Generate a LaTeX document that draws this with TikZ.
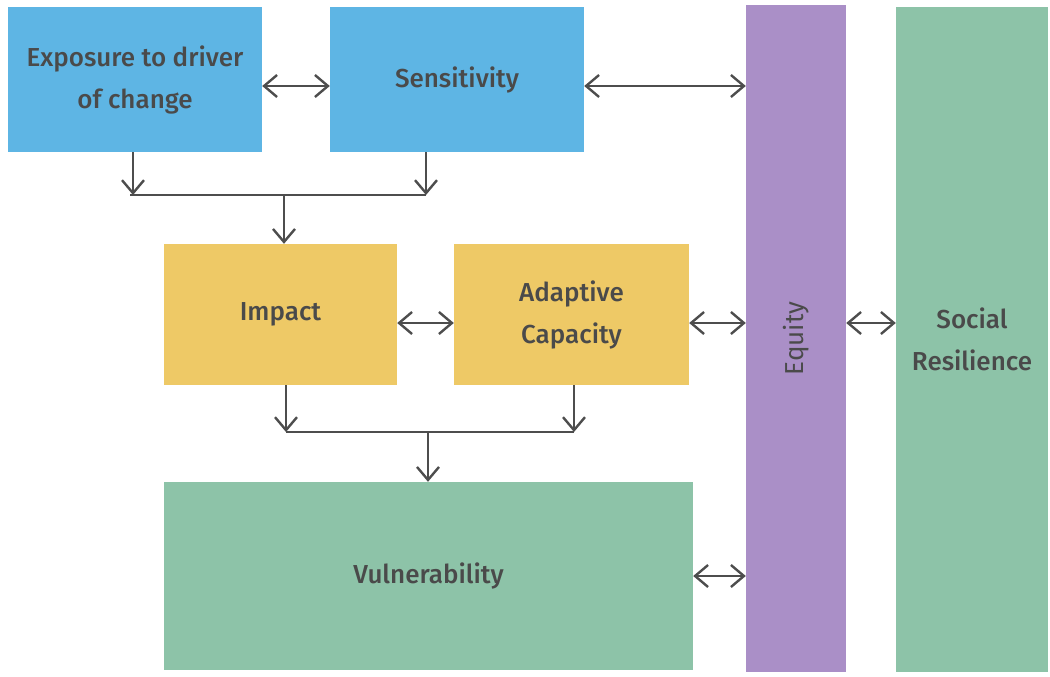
\documentclass[tikz,border=0pt]{standalone}
\usepackage{fontspec}
\setmainfont{Fira Sans}[BoldFont={Fira Sans Medium}]
\usetikzlibrary{arrows.meta}
\definecolor{expblue}{RGB}{94,181,228}
\definecolor{impyellow}{RGB}{238,201,102}
\definecolor{eqpurple}{RGB}{170,143,199}
\definecolor{vulgreen}{RGB}{141,195,168}
\definecolor{txtgray}{RGB}{74,74,74}
\definecolor{arrgray}{RGB}{77,77,77}
\begin{document}
\begin{tikzpicture}[x=1pt,y=-1pt,
	box/.style={inner sep=0pt, align=center, text=txtgray, font=\fontsize{26}{42}\selectfont\bfseries},
	arr/.style={draw=arrgray, line width=2.4pt, -{Straight Barb[length=13pt,width=22pt]}},
	dbl/.style={draw=arrgray, line width=2.4pt, {Straight Barb[length=13pt,width=22pt]}-{Straight Barb[length=13pt,width=22pt]}},
	jn/.style={draw=arrgray, line width=2.4pt}]
	\useasboundingbox (0,0) rectangle (1050,677);
	% upper row
	\node (ex) at (135, 79.5)	[box, fill=expblue, minimum width=254pt, minimum height=145pt]	{Exposure to driver\\of change};
	\node (se) at (457, 79.5)	[box, fill=expblue, minimum width=254pt, minimum height=145pt]	{Sensitivity};
	% middle row
	\node (im) at (280.5, 314.5)	[box, fill=impyellow, minimum width=233pt, minimum height=141pt]	{\raisebox{-3pt}{Impact}};
	\node (ad) at (571.5, 314.5)	[box, fill=impyellow, minimum width=235pt, minimum height=141pt]	{Adaptive\\Capacity};
	% bottom
	\node (vu) at (428.5, 576)	[box, fill=vulgreen, minimum width=529pt, minimum height=188pt]	{Vulnerability};
	% columns on the right
	\node (eq) at (796, 338.5)	[box, fill=eqpurple, minimum width=100pt, minimum height=667pt]	{};
	\node (eqt) at (eq.center)	[box, rotate=90, font=\fontsize{26}{42}\selectfont]	{Equity};
	\node (sr) at (972, 339.5)	[box, fill=vulgreen, minimum width=152pt, minimum height=665pt]	{Social\\Resilience};
	% rows of the two-way arrows
	\coordinate (r1) at (0, 86);
	\coordinate (r2) at (0, 323);
	\coordinate (r3) at (0, 576);
	\draw[dbl] (ex.east |- r1) -- (se.west |- r1);
	\draw[dbl] (se.east |- r1) -- (eq.west |- r1);
	\draw[dbl] (im.east |- r2) -- (ad.west |- r2);
	\draw[dbl] (ad.east |- r2) -- (eq.west |- r2);
	\draw[dbl] (eq.east |- r2) -- (sr.west |- r2);
	\draw[dbl] (vu.east |- r3) -- (eq.west |- r3);
	% junction above Impact
	\coordinate (j1) at (133, 195);
	\coordinate (j2) at (426, 195);
	\coordinate (j3) at (284, 195);
	\draw[arr] (ex.south -| j1) -- (j1);
	\draw[arr] (se.south -| j2) -- (j2);
	\draw[jn] ([xshift=-3pt]j1) -- (j2);
	\draw[arr] (j3) -- (im.north -| j3);
	% junction above Vulnerability
	\coordinate (k1) at (286, 432);
	\coordinate (k2) at (574, 432);
	\coordinate (k3) at (428, 432);
	\draw[arr] (im.south -| k1) -- (k1);
	\draw[arr] (ad.south -| k2) -- (k2);
	\draw[jn] (k1) -- (k2);
	\draw[arr] (k3) -- (vu.north -| k3);
\end{tikzpicture}
\end{document}
